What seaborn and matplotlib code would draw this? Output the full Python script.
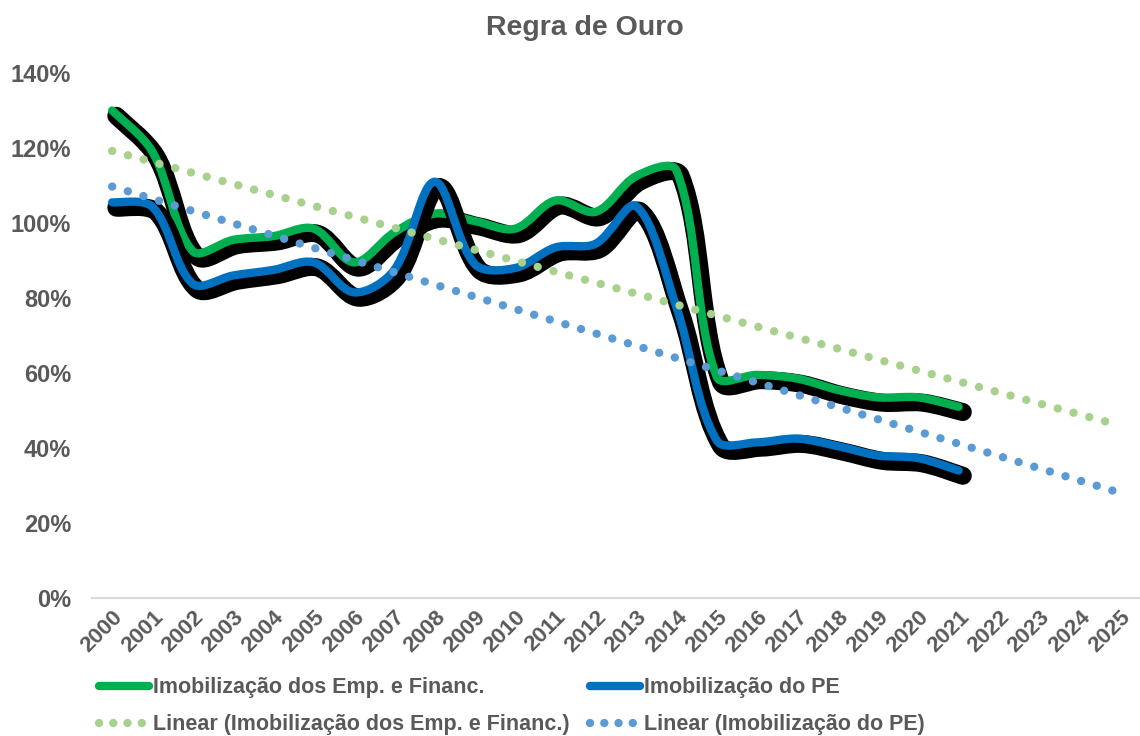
import numpy as np
import pandas as pd
import matplotlib
matplotlib.use("Agg")
import matplotlib.pyplot as plt
import matplotlib.patheffects as pe
from matplotlib.path import Path
from matplotlib.patches import PathPatch
from matplotlib.lines import Line2D
from matplotlib.ticker import PercentFormatter
import seaborn as sns

# data
years = [str(y) for y in range(2000, 2026)]
emp_financ = [1.30, 1.19, 0.925, 0.955, 0.965, 0.985, 0.895, 0.975, 1.025, 1.005, 0.985, 1.06,
              1.03, 1.125, 1.14, 0.59, 0.595, 0.585, 0.555, 0.535, 0.535, 0.51]
imob_pe = [1.055, 1.043, 0.838, 0.86, 0.875, 0.895, 0.815, 0.875, 1.11, 0.89, 0.88, 0.935,
           0.945, 1.045, 0.775, 0.42, 0.415, 0.425, 0.405, 0.38, 0.373, 0.34]

GREEN, BLUE = "#00B050", "#0070C0"
GREEN_T, BLUE_T = "#A9D18E", "#5B9BD5"
GREY = "#595959"
DOTS = (0, (0.01, 1.95))

sns.set_theme(style="white")
plt.rcParams["font.family"] = ["Liberation Sans", "DejaVu Sans"]

x_all = np.arange(len(years))

# linear trendlines (Excel "Linear" trend), extended to 2025
def trend(vals):
    xs = np.arange(len(vals))
    k, b = np.polyfit(xs, vals, 1)
    return k * x_all + b

df_trend = pd.DataFrame({"x": x_all,
                         "t_emp": trend(emp_financ),
                         "t_pe": trend(imob_pe)})

# pixel size of one x step / one y unit, used to shape the smoothing
SX, SY = 40.3, 375.0


def smooth_path(vals):
    # bezier smoothing in the spirit of Excel's "smoothed line":
    # handle length weighted by neighbouring segment lengths
    p = np.column_stack([np.arange(len(vals)), vals]).astype(float)
    q = p * [SX, SY]
    n = len(p)
    seg = np.hypot(*np.diff(q, axis=0).T)
    verts = [p[0]]
    codes = [Path.MOVETO]
    for i in range(n - 1):
        d_prev = seg[i - 1] if i > 0 else 0.0
        d_next = seg[i + 1] if i + 2 < n else 0.0
        p0 = p[i - 1] if i > 0 else p[i]
        p3 = p[i + 2] if i + 2 < n else p[i + 1]
        f1 = seg[i] / (d_prev + seg[i]) / 3 if i > 0 else 1 / 6
        f2 = seg[i] / (seg[i] + d_next) / 3 if i + 2 < n else 1 / 6
        c1 = p[i] + (p[i + 1] - p0) * f1
        c2 = p[i + 1] - (p3 - p[i]) * f2
        verts += [c1, c2, p[i + 1]]
        codes += [Path.CURVE4] * 3
    return Path(verts, codes)


fig = plt.figure(figsize=(11.4, 7.36), dpi=100)
ax = fig.add_axes([92 / 1140, 138 / 736, 1048 / 1140, 525 / 736])

shadow = [pe.Stroke(linewidth=13, foreground="black", offset=(3, -3.8)), pe.Normal()]
for vals, col in [(emp_financ, GREEN), (imob_pe, BLUE)]:
    patch = PathPatch(smooth_path(vals), fill=False, edgecolor=col, lw=6,
                      capstyle="round", joinstyle="round", zorder=3)
    patch.set_path_effects(shadow)
    ax.add_patch(patch)

sns.lineplot(data=df_trend, x="x", y="t_emp", ax=ax, color=GREEN_T, lw=6,
             linestyle=DOTS, dash_capstyle="round", zorder=4)
sns.lineplot(data=df_trend, x="x", y="t_pe", ax=ax, color=BLUE_T, lw=6,
             linestyle=DOTS, dash_capstyle="round", zorder=4)

ax.set_xlim(-0.5, len(years) - 0.5)
ax.set_ylim(0, 1.4)
ax.set_yticks(np.arange(0, 1.41, 0.2))
ax.yaxis.set_major_formatter(PercentFormatter(1.0, decimals=0))
ax.set_xticks(x_all)
ax.set_xticklabels(years, rotation=45, ha="right", rotation_mode="anchor")
ax.tick_params(axis="both", length=0, labelcolor=GREY)
ax.tick_params(axis="y", pad=15, labelsize=17)
ax.tick_params(axis="x", pad=6, labelsize=16)
for lab in ax.get_xticklabels() + ax.get_yticklabels():
    lab.set_fontweight("bold")
ax.set_xlabel("")
ax.set_ylabel("")
for s in ["top", "right", "left"]:
    ax.spines[s].set_visible(False)
ax.spines["bottom"].set_color("#D9D9D9")
ax.spines["bottom"].set_linewidth(1.5)

fig.text(585 / 1140, 1 - 28 / 736, "Regra de Ouro", ha="center", va="center",
         fontsize=20.5, fontweight="bold", color=GREY)

handles = [
    Line2D([], [], color=GREEN, lw=6, solid_capstyle="round"),
    Line2D([], [], color=GREEN_T, lw=6, linestyle=(0, (0.01, 1.7)), dash_capstyle="round"),
    Line2D([], [], color=BLUE, lw=6, solid_capstyle="round"),
    Line2D([], [], color=BLUE_T, lw=6, linestyle=(0, (0.01, 1.7)), dash_capstyle="round"),
]
labels = ["Imobilização dos Emp. e Financ.", "Linear (Imobilização dos Emp. e Financ.)",
          "Imobilização do PE", "Linear (Imobilização do PE)"]
fig.legend(handles, labels, ncol=2, loc="upper left", bbox_to_anchor=(82 / 1140, 1 - 660 / 736),
           frameon=False, handlelength=2.3, handletextpad=0.2, columnspacing=0.95,
           labelspacing=0.75, borderpad=0.3, prop={"size": 15.5, "weight": "bold"},
           labelcolor=GREY)

fig.savefig("out.png", dpi=100)
